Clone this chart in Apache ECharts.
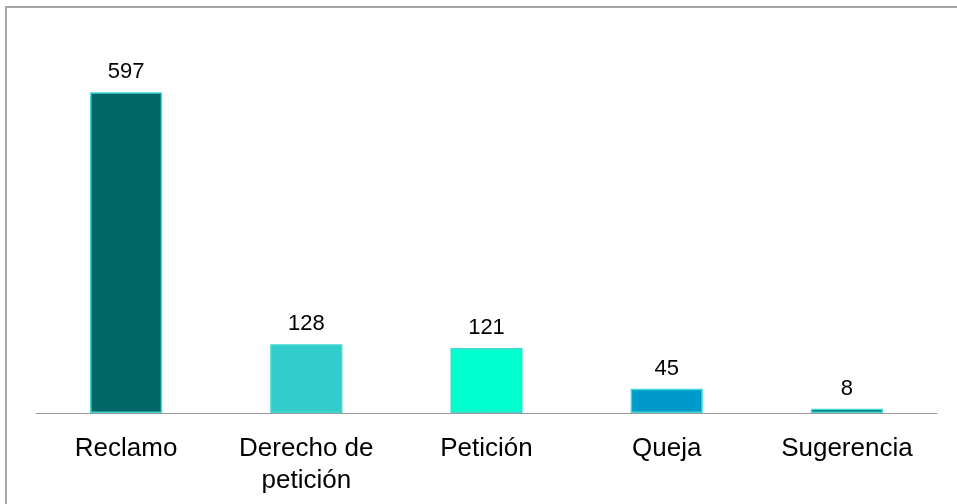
<!DOCTYPE html>
<html>
<head>
<meta charset="utf-8">
<script src="https://cdn.jsdelivr.net/npm/echarts@6/dist/echarts.min.js"></script>
<style>html,body{margin:0;padding:0;background:#fff}#c{width:957px;height:504px}</style>
</head>
<body>
<div id="c"></div>
<script>
const categories = ['Reclamo', 'Derecho de\npetición', 'Petición', 'Queja', 'Sugerencia'];
const values = [597, 128, 121, 45, 8];
const colors = ['#006666', '#33CCCC', '#00FFCC', '#0099CC', '#006666'];

const chart = echarts.init(document.getElementById('c'));
chart.setOption({
  animation: false,
  graphic: [{
    type: 'rect', z: -1,
    shape: { x: 6, y: 7, width: 1200, height: 800 },
    style: { fill: 'none', stroke: '#a6a6a6', lineWidth: 2 }
  }],
  grid: { left: 36, right: 20, top: 37, bottom: 91 },
  xAxis: {
    type: 'category',
    data: categories,
    axisTick: { show: false },
    axisLine: { lineStyle: { color: '#999999', width: 1 } },
    axisLabel: {
      color: '#000', fontFamily: 'Liberation Sans, Arial, sans-serif',
      fontSize: 26, lineHeight: 32, margin: 20, interval: 0
    }
  },
  yAxis: {
    type: 'value', min: 0, max: 700, show: false,
    splitLine: { show: false }
  },
  series: [{
    type: 'bar',
    barWidth: '40%',
    data: values.map((v, i) => ({ value: v, itemStyle: { color: colors[i] } })),
    itemStyle: { borderColor: '#40D8D0', borderWidth: 1.5 },
    label: {
      show: true, position: 'top', distance: 9,
      color: '#000', fontFamily: 'Liberation Sans, Arial, sans-serif', fontSize: 22
    }
  }]
});
</script>
</body>
</html>
